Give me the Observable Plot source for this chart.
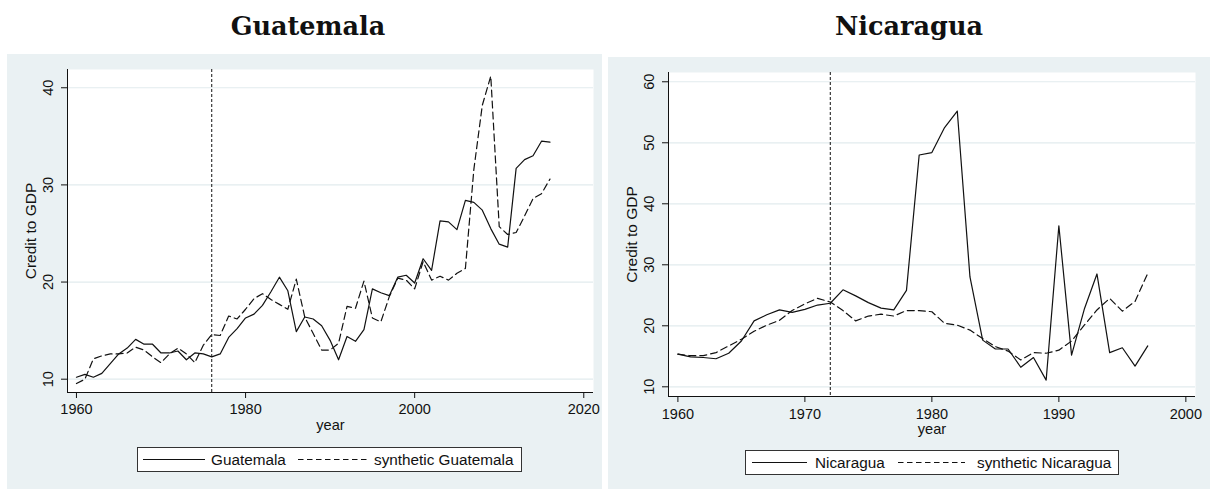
<!DOCTYPE html>
<html>
<head>
<meta charset="utf-8">
<script src="https://cdn.jsdelivr.net/npm/d3@7"></script>
<script src="https://cdn.jsdelivr.net/npm/@observablehq/plot@0.6"></script>
<style>
  html, body { margin: 0; padding: 0; background: #ffffff; }
  body { width: 1210px; height: 489px; position: relative; overflow: hidden; font-family: "Liberation Sans", Arial, sans-serif; }
  .title { position: absolute; font-family: "DejaVu Serif", serif; font-weight: bold; font-size: 25.5px; color: #111; text-align: center; width: 400px; }
  .panel { position: absolute; }
  .legend { position: absolute; background: #fff; border: 1px solid #333; box-sizing: border-box; height: 25px; color: #111; }
  .legend svg { position: absolute; left: 0; top: 0; }
</style>
</head>
<body>
<div class="title" id="t1"></div>
<div class="title" id="t2"></div>
<div class="panel" id="p1"></div>
<div class="panel" id="p2"></div>
<div class="legend" id="l1"></div>
<div class="legend" id="l2"></div>
<script>
// ---------- data ----------
const gTitle = "Guatemala";
const gYears = [1960,1961,1962,1963,1964,1965,1966,1967,1968,1969,1970,1971,1972,1973,1974,1975,1976,1977,1978,1979,
  1980,1981,1982,1983,1984,1985,1986,1987,1988,1989,1990,1991,1992,1993,1994,1995,1996,1997,1998,1999,
  2000,2001,2002,2003,2004,2005,2006,2007,2008,2009,2010,2011,2012,2013,2014,2015,2016];
const gActual = [10.2,10.5,10.2,10.6,11.6,12.6,13.2,14.1,13.6,13.6,12.7,12.7,12.9,12.0,12.7,12.6,12.3,12.6,14.3,15.2,
  16.3,16.7,17.6,19.0,20.5,19.1,14.9,16.4,16.2,15.5,14.0,12.0,14.4,13.9,15.1,19.3,18.9,18.6,20.5,20.7,
  19.9,22.4,21.2,26.3,26.2,25.4,28.4,28.2,27.4,25.5,23.9,23.6,31.7,32.6,33.0,34.5,34.4];
const gSynth = [9.55,10.0,12.1,12.4,12.6,12.6,12.7,13.3,13.0,12.3,11.7,12.6,13.2,12.6,11.7,13.5,14.6,14.5,16.5,16.2,
  17.2,18.3,18.8,18.2,17.7,17.2,20.3,16.4,14.7,13.0,13.0,13.7,17.5,17.3,20.1,16.3,15.9,18.5,20.4,20.2,
  19.3,22.1,20.2,20.6,20.2,20.9,21.4,31.6,38.2,41.2,25.7,24.9,25.1,26.8,28.6,29.1,30.6];
const gTreat = 1976;
const gXTicks = [1960, 1980, 2000, 2020];
const gYTicks = [10, 20, 30, 40];
const gLegend = ["Guatemala", "synthetic Guatemala"];

const nTitle = "Nicaragua";
const nYears = [1960,1961,1962,1963,1964,1965,1966,1967,1968,1969,1970,1971,1972,1973,1974,1975,1976,1977,1978,1979,
  1980,1981,1982,1983,1984,1985,1986,1987,1988,1989,1990,1991,1992,1993,1994,1995,1996,1997];
const nActual = [15.35,14.9,14.8,14.6,15.5,17.5,20.8,21.8,22.6,22.2,22.7,23.4,23.7,25.9,24.9,23.8,22.9,22.6,25.8,48.0,
  48.4,52.5,55.2,28.0,17.65,16.2,16.2,13.2,14.8,11.1,36.4,15.2,22.7,28.5,15.6,16.4,13.4,16.7];
const nSynth = [15.35,15.1,15.1,15.6,16.7,17.8,19.1,20.1,20.9,22.5,23.6,24.5,23.9,22.5,20.8,21.6,21.9,21.6,22.5,22.5,
  22.3,20.4,20.1,19.3,17.9,16.6,15.85,14.4,15.6,15.5,16.0,17.5,20.1,22.6,24.5,22.4,24.0,28.6];
const nTreat = 1972;
const nXTicks = [1960, 1970, 1980, 1990, 2000];
const nYTicks = [10, 20, 30, 40, 50, 60];
const nLegend = ["Nicaragua", "synthetic Nicaragua"];

const yLabel = "Credit to GDP";
const xLabel = "year";

// ---------- styling ----------
const bg = "#eaf1f3";
const grid = "#e2ebee";
const ink = "#111";
const dash = "7,4";
const sans = '"Liberation Sans", Arial, sans-serif';

function panel(o) {
  const rows = (vals) => o.years.map((y, i) => ({year: y, v: vals[i]}));
  return Plot.plot({
    width: o.width, height: o.height,
    marginLeft: o.ml, marginRight: o.mr, marginTop: o.mt, marginBottom: o.mb,
    style: {background: bg, fontFamily: sans, fontSize: "14.5px", color: ink, overflow: "visible"},
    x: {domain: o.xDomain},
    y: {domain: o.yDomain},
    marks: [
      Plot.frame({fill: "white", stroke: null}),
      Plot.gridY(o.yTicks, {stroke: grid, strokeOpacity: 1, strokeWidth: 1.2}),
      Plot.ruleX([o.treat], {stroke: ink, strokeWidth: 1, strokeDasharray: "3,2"}),
      Plot.lineY(rows(o.actual), {x: "year", y: "v", stroke: ink, strokeWidth: 1.2}),
      Plot.lineY(rows(o.synth), {x: "year", y: "v", stroke: ink, strokeWidth: 1.2, strokeDasharray: dash}),
      Plot.ruleX([o.xDomain[0]], {stroke: ink, strokeWidth: 1}),
      Plot.ruleY([o.yDomain[0]], {stroke: ink, strokeWidth: 1}),
      Plot.axisX(o.xTicks, {tickSize: 6, tickPadding: o.xPad, tickFormat: d => String(d), fontSize: 14.5, label: null}),
      Plot.axisY(o.yTicks, {tickSize: 6, tickPadding: 9, tickRotate: -90, fontSize: 14.5, label: null}),
      Plot.text([xLabel], {frameAnchor: "bottom", lineAnchor: "middle", textAnchor: "middle", dy: o.xLabelDy, fontSize: 14.6, fill: ink}),
      Plot.text([yLabel], {frameAnchor: "left", lineAnchor: "middle", textAnchor: "middle", dx: -36, rotate: -90, fontSize: 15.5, fill: ink})
    ]
  });
}

function legend(el, labels, box, items) {
  el.style.left = box.x + "px"; el.style.top = box.y + "px";
  el.style.width = box.w + "px";
  const svg = d3.select(el).append("svg").attr("width", box.w - 2).attr("height", 23);
  const g = svg.append("g").attr("stroke", ink).attr("stroke-width", 1.2);
  g.append("line").attr("x1", items[0]).attr("x2", items[1]).attr("y1", 11.5).attr("y2", 11.5);
  g.append("line").attr("x1", items[3]).attr("x2", items[4]).attr("y1", 11.5).attr("y2", 11.5).attr("stroke-dasharray", "5.5,3.5");
  const t = svg.append("g").attr("font-family", sans).attr("font-size", 15.3).attr("fill", ink);
  t.append("text").attr("x", items[2]).attr("y", 17).text(labels[0]);
  t.append("text").attr("x", items[5]).attr("y", 17).text(labels[1]);
}

// left panel
const p1 = document.getElementById("p1");
p1.style.left = "7px"; p1.style.top = "54px";
p1.append(panel({
  years: gYears, actual: gActual, synth: gSynth, treat: gTreat,
  xTicks: gXTicks, yTicks: gYTicks,
  xDomain: [1958.94, 2021.15], yDomain: [8.63, 41.88],
  width: 595, height: 435, ml: 60, mr: 9, mt: 15, mb: 97,
  xPad: 5, xLabelDy: 33
}));
// right panel
const p2 = document.getElementById("p2");
p2.style.left = "608px"; p2.style.top = "57px";
p2.append(panel({
  years: nYears, actual: nActual, synth: nSynth, treat: nTreat,
  xTicks: nXTicks, yTicks: nYTicks,
  xDomain: [1959.26, 2000.76], yDomain: [8.41, 61.52],
  width: 602, height: 432, ml: 60, mr: 15, mt: 15, mb: 93,
  xPad: 6, xLabelDy: 33
}));

// titles
const t1 = document.getElementById("t1");
t1.textContent = gTitle; t1.style.left = (308 - 200) + "px"; t1.style.top = "11px";
const t2 = document.getElementById("t2");
t2.textContent = nTitle; t2.style.left = (909 - 200) + "px"; t2.style.top = "11px";

// legends
legend(document.getElementById("l1"), gLegend, {x: 137, y: 447, w: 385}, [5, 67, 73, 160, 229, 236]);
legend(document.getElementById("l2"), nLegend, {x: 745, y: 450, w: 374}, [6, 61, 69, 152, 219, 231]);
</script>
</body>
</html>
